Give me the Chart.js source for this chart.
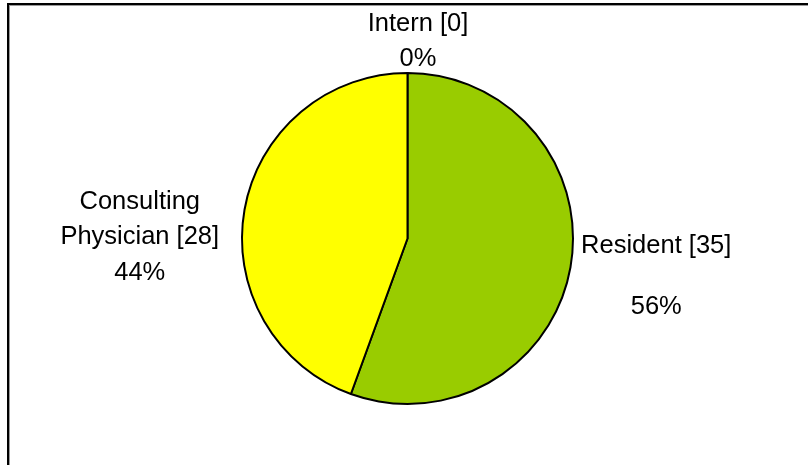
<!DOCTYPE html>
<html>
<head>
<meta charset="utf-8">
<script src="https://cdn.jsdelivr.net/npm/chart.js@4/dist/chart.umd.min.js"></script>
<style>
  html, body { margin: 0; padding: 0; background: #fff; overflow: hidden; }
  #wrap { position: relative; width: 808px; height: 465px; overflow: hidden; }
  #frame {
    position: absolute; left: 7px; top: 3px; width: 900px; height: 600px;
    border-left: 2px solid #000; border-top: 2px solid #000;
    box-shadow: inset 1px 1px 0 #9a9a9a;
  }
  canvas { position: absolute; left: 0; top: 0; }
</style>
</head>
<body>
<div id="wrap">
  <div id="frame"></div>
  <canvas id="chart" width="808" height="465"></canvas>
</div>
<script>
// Staff categories and head counts, clockwise from 12 o'clock
const categories = ['Intern', 'Resident', 'Consulting\nPhysician'];
const counts = [0, 35, 28];
const sliceColors = ['#8080ff', '#99cc00', '#ffff00'];

// Where each slice's label block sits, relative to the slice's outer edge midpoint
const labelLayout = [
  { dx: 10.5,  dy: -42, gap: 35,   blank: false },
  { dx: 85.75, dy: -14, gap: 30.5, blank: true },
  { dx: -104.75, dy: -1, gap: 35.5, blank: false }
];

const total = counts.reduce((a, b) => a + b, 0);

const sliceLabels = {
  id: 'sliceLabels',
  afterDatasetsDraw(chart) {
    const ctx = chart.ctx;
    const meta = chart.getDatasetMeta(0);
    ctx.save();
    ctx.fillStyle = '#000';
    ctx.font = '25.5px "Liberation Sans", Arial, sans-serif';
    ctx.textAlign = 'center';
    ctx.textBaseline = 'alphabetic';
    meta.data.forEach((arc, i) => {
      const p = arc.getProps(['x', 'y', 'startAngle', 'endAngle', 'outerRadius'], true);
      const mid = (p.startAngle + p.endAngle) / 2;
      const ax = p.x + Math.cos(mid) * p.outerRadius;
      const ay = p.y + Math.sin(mid) * p.outerRadius;
      const lay = labelLayout[i];
      const pct = Math.round(counts[i] / total * 100) + '%';
      const nameLines = categories[i].split('\n');
      nameLines[nameLines.length - 1] += ' [' + counts[i] + ']';
      const lines = nameLines.concat(lay.blank ? ['', pct] : [pct]);
      lines.forEach((t, k) => {
        ctx.fillText(t, ax + lay.dx, ay + lay.dy + k * lay.gap);
      });
    });
    ctx.restore();
  }
};

new Chart(document.getElementById('chart'), {
  type: 'pie',
  data: {
    labels: categories,
    datasets: [{
      data: counts,
      backgroundColor: sliceColors,
      borderColor: '#000',
      borderWidth: 2
    }]
  },
  options: {
    responsive: false,
    animation: false,
    layout: { padding: { left: 7, right: 0, top: 72, bottom: 60 } },
    plugins: {
      legend: { display: false },
      tooltip: { enabled: false }
    }
  },
  plugins: [sliceLabels]
});
</script>
</body>
</html>
